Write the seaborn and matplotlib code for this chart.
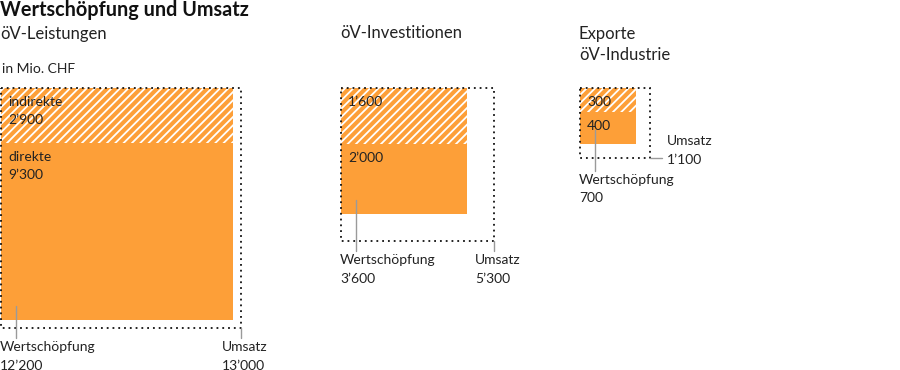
import numpy as np
import seaborn as sns
import matplotlib.pyplot as plt

# data (Mio. CHF)
groups = ["öV-Leistungen", "öV-Investitionen", "Exporte\nöV-Industrie"]
indirekt = [2900, 1600, 300]
direkt = [9300, 2000, 400]
wertschoepfung = [12200, 3600, 700]
umsatz = [13000, 5300, 1100]
ind_labels = ["indirekte\n2’900", "1’600", "300"]
dir_labels = ["direkte\n9’300", "2’000", "400"]
ws_labels = ["12’200", "3’600", "700"]
um_labels = ["13’000", "5’300", "1’100"]

sns.set_theme(style="white")
plt.rcParams["font.family"] = ["Lato", "DejaVu Sans"]
plt.rcParams["hatch.linewidth"] = 1.3

ORANGE = "#fd9f38"
TXT = "#222222"
GREY = "#9a9a9a"

fig = plt.figure(figsize=(9, 3.7), dpi=100)
ax = fig.add_axes([0, 0, 1, 1])
ax.set_xlim(0, 900)
ax.set_ylim(370, 0)
ax.axis("off")

# area-true squares, scaled so the largest square is 240 px wide
k = 240 / np.sqrt(max(umsatz))
x0s = [1, 341, 580]
top = 88

for i, g in enumerate(groups):
    x0 = x0s[i]
    s_um = np.sqrt(umsatz[i]) * k
    s_ws = np.sqrt(wertschoepfung[i]) * k
    h_ind = s_ws * indirekt[i] / wertschoepfung[i]
    h_dir = s_ws - h_ind

    # solid part (direkt) and hatched part (indirekt)
    ax.bar(x0, h_dir, width=s_ws, bottom=top + h_ind, align="edge",
           color=ORANGE, linewidth=0)
    ax.bar(x0, h_ind, width=s_ws, bottom=top, align="edge",
           color=ORANGE, edgecolor="white", hatch="////", linewidth=0)
    # dotted Umsatz frame
    ax.bar(x0, s_um, width=s_um, bottom=top, align="edge", fill=False,
           edgecolor="#111111", linestyle=(0, (1, 2.2)), linewidth=1.3)

    # inner labels
    fs_in = 10
    ax.text(x0 + 7, top + 8, ind_labels[i], fontsize=fs_in, color=TXT,
            va="top", linespacing=1.55)
    ax.text(x0 + 7, top + h_ind + 8, dir_labels[i], fontsize=fs_in,
            color=TXT, va="top", linespacing=1.55)

    # group title
    ax.text(x0 - 1, 25.5, g, fontsize=12, color=TXT, va="top", linespacing=1.4)

    # Wertschöpfung leader + label
    lx = x0 + 15
    y_end = top + s_um + (10 if i < 2 else 13)
    ax.plot([lx, lx], [top + s_ws - 14, y_end], color=GREY, lw=1)
    ax.text(x0 - 1, y_end + 3, "Wertschöpfung\n" + ws_labels[i],
            fontsize=10, color=TXT, va="top", linespacing=1.65)

    # Umsatz leader + label
    if i < 2:
        ux = x0 + s_um
        ax.plot([ux, ux], [top + s_um, y_end], color=GREY, lw=1)
        ax.text(ux - 19, y_end + 3, "Umsatz\n" + um_labels[i],
                fontsize=10, color=TXT, va="top", linespacing=1.65)
    else:
        uy = top + s_um
        ax.plot([x0 + s_um, x0 + s_um + 12], [uy, uy], color=GREY, lw=1)
        ax.text(x0 + s_um + 17, uy + 8, "Umsatz\n" + um_labels[i],
                fontsize=10, color=TXT, va="bottom", linespacing=1.65)

ax.text(0, 0, "Wertschöpfung und Umsatz", fontsize=14.3, fontweight="bold",
        color="#111111", va="top")
ax.text(2, 63, "in Mio. CHF", fontsize=10, color=TXT, va="top")

fig.savefig("out.png", dpi=100)
